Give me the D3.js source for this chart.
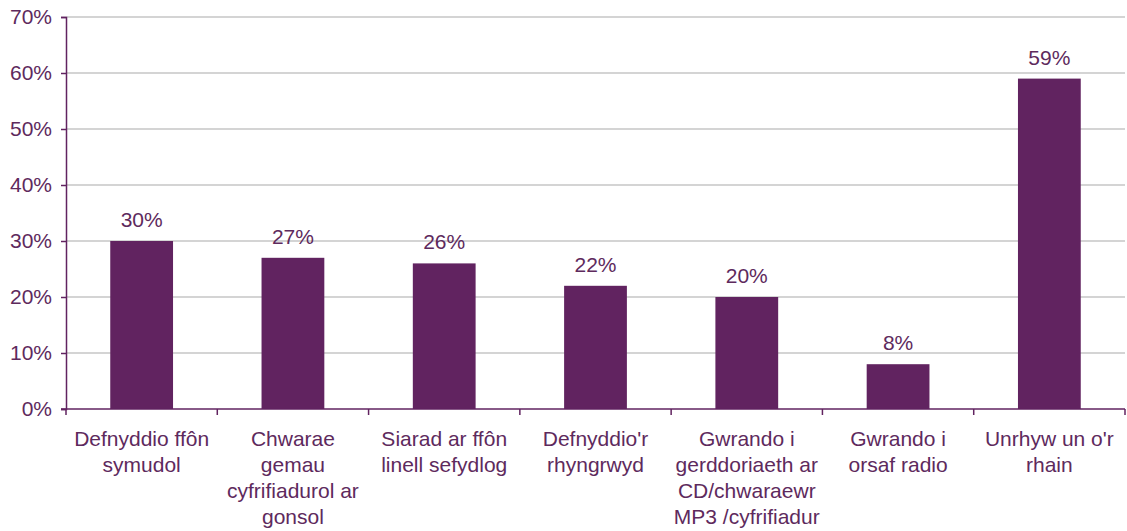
<!DOCTYPE html>
<html>
<head>
<meta charset="utf-8">
<script src="https://cdn.jsdelivr.net/npm/d3@7"></script>
<style>
  body { margin: 0; background: #fff; }
  svg text { font-family: "Liberation Sans", Arial, sans-serif; fill: #5e2a5d; }
</style>
</head>
<body>
<div id="container"></div>
<script>
// data
const categories = [
  ['Defnyddio ffôn', 'symudol'],
  ['Chwarae', 'gemau', 'cyfrifiadurol ar', 'gonsol'],
  ['Siarad ar ffôn', 'linell sefydlog'],
  ["Defnyddio'r", 'rhyngrwyd'],
  ['Gwrando i', 'gerddoriaeth ar', 'CD/chwaraewr', 'MP3 /cyfrifiadur'],
  ['Gwrando i', 'orsaf radio'],
  ["Unrhyw un o'r", 'rhain']
];
const values = [30, 27, 26, 22, 20, 8, 59];
const yTicks = [0, 10, 20, 30, 40, 50, 60, 70];

const width = 1127, height = 531;
const margin = {top: 17, right: 2, bottom: 122, left: 66};
const fs = 21;

const svg = d3.select('#container').append('svg')
  .attr('width', width)
  .attr('height', height);

const x = d3.scaleBand()
  .domain(d3.range(values.length))
  .range([margin.left, width - margin.right])
  .padding(0);

const y = d3.scaleLinear()
  .domain([0, 70])
  .range([height - margin.bottom, margin.top]);

const barW = x.bandwidth() * 0.415;

// gridlines
svg.append('g')
  .selectAll('line')
  .data(yTicks.slice(1))
  .join('line')
  .attr('x1', margin.left)
  .attr('x2', width - margin.right)
  .attr('y1', d => y(d))
  .attr('y2', d => y(d))
  .attr('stroke', '#c6c6c6')
  .attr('stroke-width', 1.5);

// y axis
const yAxis = svg.append('g')
  .attr('transform', `translate(${margin.left},0)`)
  .call(d3.axisLeft(y).tickValues(yTicks).tickFormat(d => d + '%').tickSizeOuter(0).tickSize(5).tickPadding(9));
yAxis.select('.domain').attr('stroke', '#612360').attr('stroke-width', 1.5);
yAxis.selectAll('.tick line').attr('stroke', '#612360').attr('stroke-width', 1.5);
yAxis.selectAll('.tick text').attr('font-size', fs).attr('fill', '#5e2a5d')
  .attr('font-family', '"Liberation Sans", Arial, sans-serif');

// bars
svg.append('g')
  .attr('fill', '#612360')
  .selectAll('rect')
  .data(values)
  .join('rect')
  .attr('x', (d, i) => x(i) + (x.bandwidth() - barW) / 2)
  .attr('y', d => y(d))
  .attr('width', barW)
  .attr('height', d => y(0) - y(d));

// value labels
svg.append('g')
  .selectAll('text')
  .data(values)
  .join('text')
  .attr('x', (d, i) => x(i) + x.bandwidth() / 2)
  .attr('y', d => y(d) - 14)
  .attr('text-anchor', 'middle')
  .attr('font-size', fs)
  .text(d => d + '%');

// x axis
const xAxisG = svg.append('g').attr('transform', `translate(0,${y(0)})`);
xAxisG.append('line')
  .attr('x1', margin.left - 5).attr('x2', width - margin.right)
  .attr('stroke', '#612360').attr('stroke-width', 1.5);
xAxisG.selectAll('line.tick')
  .data(d3.range(values.length + 1))
  .join('line')
  .attr('class', 'tick')
  .attr('x1', i => margin.left + i * x.step())
  .attr('x2', i => margin.left + i * x.step())
  .attr('y1', 0).attr('y2', 6)
  .attr('stroke', '#612360').attr('stroke-width', 1.5);

// category labels
const lab = xAxisG.selectAll('text.cat')
  .data(categories)
  .join('text')
  .attr('class', 'cat')
  .attr('text-anchor', 'middle')
  .attr('font-size', fs)
  .attr('transform', (d, i) => `translate(${x(i) + x.bandwidth() / 2},37)`);
lab.selectAll('tspan')
  .data(d => d)
  .join('tspan')
  .attr('x', 0)
  .attr('y', (d, j) => j * 26)
  .text(d => d);
</script>
</body>
</html>
